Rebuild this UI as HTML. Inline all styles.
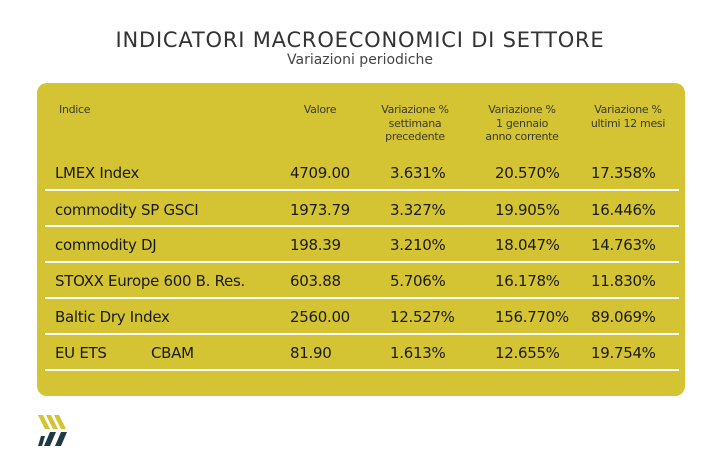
<!DOCTYPE html>
<html><head><style>
body{margin:0;width:720px;height:460px;background:#fff;font-family:"DejaVu Sans","Liberation Sans",sans-serif;position:relative;overflow:hidden}
.t{position:absolute;white-space:nowrap}
.card{position:absolute;left:37px;top:83px;width:648px;height:313px;background:#d4c434;border-radius:10px}
.h{position:absolute;font-size:11px;color:#3a3a2a;text-align:center;line-height:13.5px;letter-spacing:-0.3px}
.r{position:absolute;font-size:15px;color:#1a1a10;letter-spacing:-0.3px}
.l{position:absolute;left:45px;width:634px;height:1.5px;background:#fff}
</style></head><body>
<div class="t" style="left:0;width:720px;top:28px;text-align:center;font-size:21px;color:#333;letter-spacing:0.8px">INDICATORI MACROECONOMICI DI SETTORE</div>
<div class="t" style="left:0;width:720px;top:52px;text-align:center;font-size:14px;color:#444">Variazioni periodiche</div>
<div class="card"></div>
<div class="h" style="left:59px;top:103px;text-align:left">Indice</div>
<div class="h" style="left:290px;top:103px;width:60px">Valore</div>
<div class="h" style="left:360px;top:103px;width:110px">Variazione %<br>settimana<br>precedente</div>
<div class="h" style="left:467px;top:103px;width:110px">Variazione %<br>1 gennaio<br>anno corrente</div>
<div class="h" style="left:573px;top:103px;width:110px">Variazione %<br>ultimi 12 mesi</div>

<div class="r" style="left:55px;top:164px">LMEX Index</div><div class="r" style="left:290px;top:164px">4709.00</div><div class="r" style="left:390px;top:164px">3.631%</div><div class="r" style="left:495px;top:164px">20.570%</div><div class="r" style="left:591px;top:164px">17.358%</div>
<div class="l" style="top:189px"></div>
<div class="r" style="left:55px;top:201px">commodity SP GSCI</div><div class="r" style="left:290px;top:201px">1973.79</div><div class="r" style="left:390px;top:201px">3.327%</div><div class="r" style="left:495px;top:201px">19.905%</div><div class="r" style="left:591px;top:201px">16.446%</div>
<div class="l" style="top:225px"></div>
<div class="r" style="left:55px;top:236px">commodity DJ</div><div class="r" style="left:290px;top:236px">198.39</div><div class="r" style="left:390px;top:236px">3.210%</div><div class="r" style="left:495px;top:236px">18.047%</div><div class="r" style="left:591px;top:236px">14.763%</div>
<div class="l" style="top:261px"></div>
<div class="r" style="left:55px;top:272px">STOXX Europe 600 B. Res.</div><div class="r" style="left:290px;top:272px">603.88</div><div class="r" style="left:390px;top:272px">5.706%</div><div class="r" style="left:495px;top:272px">16.178%</div><div class="r" style="left:591px;top:272px">11.830%</div>
<div class="l" style="top:297px"></div>
<div class="r" style="left:55px;top:308px">Baltic Dry Index</div><div class="r" style="left:290px;top:308px">2560.00</div><div class="r" style="left:390px;top:308px">12.527%</div><div class="r" style="left:495px;top:308px">156.770%</div><div class="r" style="left:591px;top:308px">89.069%</div>
<div class="l" style="top:333px"></div>
<div class="r" style="left:55px;top:344px">EU ETS</div><div class="r" style="left:151px;top:344px">CBAM</div><div class="r" style="left:290px;top:344px">81.90</div><div class="r" style="left:390px;top:344px">1.613%</div><div class="r" style="left:495px;top:344px">12.655%</div><div class="r" style="left:591px;top:344px">19.754%</div>
<div class="l" style="top:369px"></div>

<svg style="position:absolute;left:37px;top:414px" width="34" height="34" viewBox="0 0 34 34">
<g fill="#d4c434"><polygon points="1,1 6,1 13,15 8,15"/><polygon points="9,1 14,1 21,15 16,15"/><polygon points="17,1 22,1 29,15 24,15"/></g>
<g fill="#1f3a44"><polygon points="4,22 8,22 5,32 1,32"/><polygon points="13,18 19,18 13,32 7,32"/><polygon points="24,18 30,18 24,32 18,32"/></g>
</svg>
</body></html>
